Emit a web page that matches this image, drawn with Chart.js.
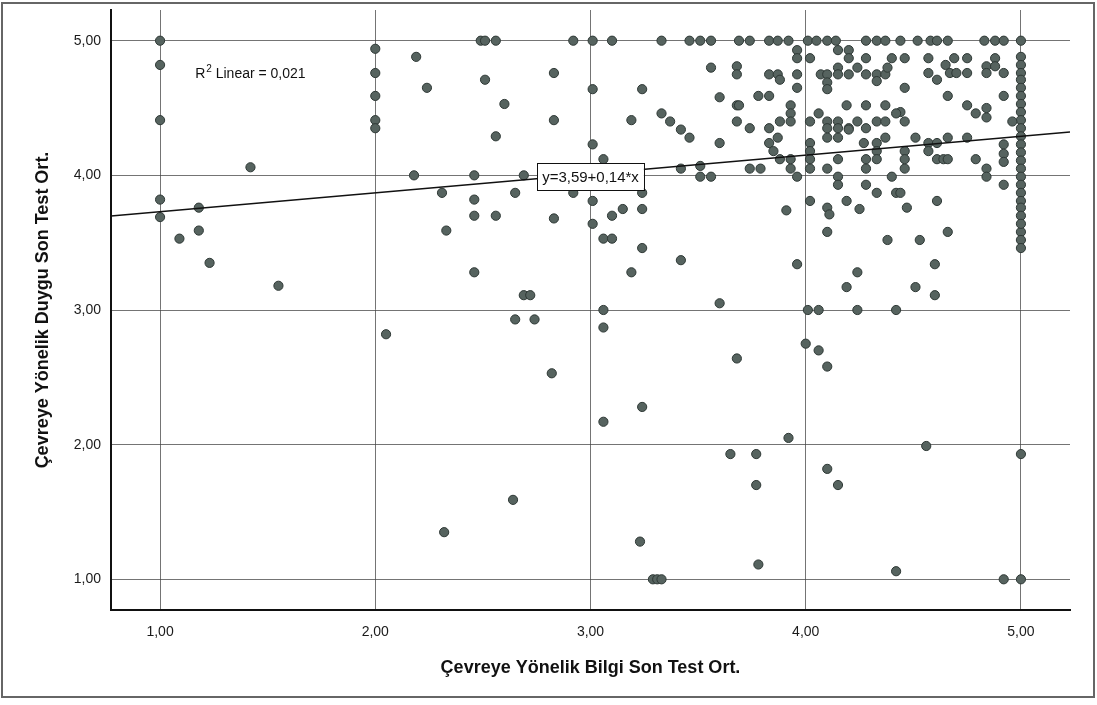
<!DOCTYPE html>
<html>
<head>
<meta charset="utf-8">
<script src="https://cdn.jsdelivr.net/npm/chart.js"></script>
<style>
  body { margin: 0; background: #ffffff; }
  #wrap { width: 1097px; height: 705px; }
</style>
</head>
<body>
<div id="wrap"><canvas id="chart1" width="1097" height="705"></canvas></div>
<script>
// axis setup
const axisMin = 0.772;
const axisMax = 5.228;
const tickValues = [1, 2, 3, 4, 5];

// fit line shown on the chart
const intercept = 3.59;
const slope = 0.14;
const fitLabel = 'y=3,59+0,14*x';
const r2Text = ' Linear = 0,021';

// Bilgi (knowledge) scores, x
const bilgi = [
    1.00, 1.00, 1.00, 1.00, 1.00, 1.42, 1.18, 1.18, 1.09, 1.23, 1.55,
    2.00, 2.00, 2.00, 2.00, 2.00, 2.19, 2.24, 2.18, 2.05,
    2.49, 2.51, 2.56, 2.92, 3.01, 3.10, 3.33, 3.46, 3.51, 3.56,
    2.51, 2.60, 2.56, 2.83, 2.83, 3.01, 3.01, 3.06, 3.19, 3.24, 3.33, 3.37, 3.42, 3.46, 3.56, 3.60, 3.60, 3.68, 3.68, 3.68, 3.68,
    2.46, 2.69, 2.31, 2.46, 2.46, 2.56, 2.65, 2.33, 2.46, 2.69, 2.72, 2.65, 2.74, 2.92, 2.83, 3.01, 3.01, 3.06, 3.10, 3.10, 3.15,
    3.24, 3.24, 3.24, 3.19, 3.42, 3.60, 3.06, 3.06, 3.42, 3.51, 3.51, 3.56,
    2.82, 3.06, 3.24, 2.64, 2.32, 3.23, 3.29, 3.31, 3.33, 3.68, 3.65,
    4.10, 4.38, 4.53, 4.66, 5.00, 5.00, 5.00, 3.96, 4.24, 4.19, 4.51, 4.60, 4.60, 4.01, 4.06, 4.24, 4.42, 4.00, 4.06, 4.10,
    3.92, 4.56, 5.00, 3.77, 3.77, 4.10, 4.15, 3.78, 4.42, 4.92, 5.00,
    3.69, 3.74, 3.83, 3.87, 3.92, 4.01, 4.05, 4.10, 4.14, 4.28, 4.33, 4.37, 4.44, 4.52, 4.58, 4.61, 4.66, 4.83, 4.88, 4.92, 5.00,
    3.96, 3.96, 4.02, 4.15, 4.20, 4.20, 4.28, 4.40, 4.15, 4.24, 4.15, 4.20, 4.28, 4.33, 4.37, 4.33, 4.38,
    3.83, 3.87, 3.88, 3.96, 3.96, 4.07, 4.10, 4.10, 4.10,
    4.46, 4.46, 4.57, 4.69, 4.75, 4.88,
    5.00, 5.00, 5.00, 5.00, 5.00, 5.00, 5.00, 5.00, 5.00, 5.00, 5.00, 5.00, 5.00, 5.00, 5.00, 5.00, 5.00, 5.00, 5.00, 5.00, 5.00, 5.00,
    4.65, 4.67, 4.70, 4.75, 4.57, 4.61, 4.84, 4.84, 4.88, 4.92, 4.66, 4.92, 4.75, 4.79, 4.84, 4.84, 4.96, 4.44, 4.46,
    3.78, 3.83, 3.69, 3.93, 3.93, 3.93, 4.19, 4.28, 4.37, 4.06, 4.42, 3.74, 3.88, 3.83, 4.02, 4.10, 4.10, 4.15, 4.20, 4.24, 4.33, 4.37, 4.28, 4.15,
    3.87, 3.83, 3.85, 3.88, 3.93, 3.93, 3.96, 4.02, 4.02, 4.02, 4.02, 3.74, 3.79, 4.15, 4.20, 4.10, 4.10, 4.15, 4.15, 4.15,
    4.27, 4.33, 4.37, 4.28, 4.28, 4.33, 4.33, 4.28, 4.40, 4.33, 4.42, 4.46, 4.46, 4.46,
    4.02, 3.91, 4.10, 4.11, 4.19, 4.25, 4.47,
    4.51, 4.57, 4.61, 4.57, 4.66, 4.75, 4.61, 4.64, 4.66, 4.79, 4.84, 4.84, 4.92, 4.92, 4.92, 4.92, 4.44, 4.61
];

// Duygu (attitude) scores, y
const duygu = [
    5.00, 4.82, 4.41, 3.82, 3.69, 4.06, 3.76, 3.59, 3.53, 3.35, 3.18,
    4.94, 4.76, 4.59, 4.41, 4.35, 4.88, 4.65, 4.00, 2.82,
    5.00, 5.00, 5.00, 5.00, 5.00, 5.00, 5.00, 5.00, 5.00, 5.00,
    4.71, 4.53, 4.29, 4.76, 4.41, 4.64, 4.23, 4.12, 4.41, 4.64, 4.46, 4.40, 4.34, 4.28, 4.80, 4.58, 4.24, 4.81, 4.75, 4.52, 4.40,
    4.00, 4.00, 3.87, 3.82, 3.70, 3.70, 3.87, 3.59, 3.28, 3.11, 3.11, 2.93, 2.93, 3.87, 3.68, 3.81, 3.64, 3.53, 3.53, 3.70, 3.75,
    3.87, 3.75, 3.46, 3.28, 3.37, 3.05, 3.00, 2.87, 4.05, 4.07, 3.99, 3.99,
    2.53, 2.17, 2.28, 1.59, 1.35, 1.28, 1.00, 1.00, 1.00, 2.64, 1.93,
    3.58, 3.52, 3.52, 3.58, 3.58, 3.52, 3.46, 3.34, 3.28, 3.17, 3.17, 3.34, 3.11, 3.00, 3.00, 3.00, 3.00, 2.75, 2.70, 2.58,
    2.05, 1.99, 1.93, 1.93, 1.70, 1.82, 1.70, 1.11, 1.06, 1.00, 1.00,
    5.00, 5.00, 5.00, 5.00, 5.00, 5.00, 5.00, 5.00, 5.00, 5.00, 5.00, 5.00, 5.00, 5.00, 5.00, 5.00, 5.00, 5.00, 5.00, 5.00, 5.00,
    4.93, 4.87, 4.87, 4.93, 4.93, 4.87, 4.87, 4.87, 4.80, 4.80, 4.75, 4.75, 4.75, 4.75, 4.75, 4.70, 4.80,
    4.75, 4.75, 4.71, 4.75, 4.65, 4.75, 4.75, 4.69, 4.64,
    4.87, 4.65, 4.87, 4.87, 4.87, 4.87,
    4.88, 4.82, 4.76, 4.71, 4.65, 4.59, 4.53, 4.47, 4.41, 4.35, 4.29, 4.23, 4.17, 4.11, 4.05, 3.99, 3.93, 3.87, 3.81, 3.76, 3.70, 3.64,
    4.82, 4.76, 4.76, 4.76, 4.76, 4.71, 4.81, 4.76, 4.81, 4.76, 4.59, 4.59, 4.52, 4.46, 4.50, 4.43, 4.40, 4.47, 4.40,
    4.59, 4.59, 4.52, 4.52, 4.46, 4.40, 4.52, 4.52, 4.52, 4.46, 4.46, 4.35, 4.40, 4.35, 4.40, 4.40, 4.35, 4.40, 4.35, 4.40, 4.40, 4.40, 4.35, 4.35,
    4.28, 4.24, 4.18, 4.12, 4.12, 4.05, 3.99, 4.24, 4.18, 4.12, 4.05, 4.05, 4.05, 4.28, 4.34, 4.28, 4.05, 4.12, 3.99, 3.93,
    4.24, 4.24, 4.28, 4.12, 4.05, 4.18, 4.12, 3.93, 3.99, 3.87, 3.87, 4.18, 4.12, 4.05,
    3.81, 3.74, 3.76, 3.71, 3.81, 3.75, 3.76,
    4.28, 4.24, 4.24, 4.18, 4.28, 4.28, 4.12, 4.12, 4.12, 4.12, 4.05, 3.99, 4.23, 4.16, 4.10, 3.93, 3.87, 3.81
];

const points = bilgi.map((v, i) => ({ x: v, y: duygu[i] }));
const fitPoints = [
    { x: axisMin, y: intercept + slope * axisMin },
    { x: axisMax, y: intercept + slope * axisMax }
];

const fontFamily = "'Liberation Sans', Arial, sans-serif";
const fmt = v => Number(v).toFixed(2).replace('.', ',');

// equation box, R2 text and the outer frame
const extras = {
    id: 'extras',
    afterDatasetsDraw(chart) {
        const ctx = chart.ctx;
        const xs = chart.scales.x, ys = chart.scales.y;
        ctx.save();
        // equation label
        ctx.font = '15px ' + fontFamily;
        const w = ctx.measureText(fitLabel).width + 10;
        const h = 27;
        const cx = xs.getPixelForValue(3.0);
        const cy = ys.getPixelForValue(3.99);
        ctx.fillStyle = '#ffffff';
        ctx.fillRect(cx - w / 2, cy - h / 2, w, h);
        ctx.strokeStyle = '#111111';
        ctx.lineWidth = 1;
        ctx.strokeRect(Math.round(cx - w / 2) + 0.5, Math.round(cy - h / 2) + 0.5, Math.round(w), h);
        ctx.fillStyle = '#111111';
        ctx.textAlign = 'center';
        ctx.textBaseline = 'middle';
        ctx.fillText(fitLabel, cx, cy + 1);
        // R2 label
        const rx = xs.getPixelForValue(1.163);
        const ry = ys.getPixelForValue(4.75);
        ctx.textAlign = 'left';
        ctx.font = '14px ' + fontFamily;
        ctx.fillText('R', rx, ry);
        let off = ctx.measureText('R').width;
        ctx.font = '10px ' + fontFamily;
        ctx.fillText('2', rx + off + 1, ry - 5);
        off += ctx.measureText('2').width + 1;
        ctx.font = '14px ' + fontFamily;
        ctx.fillText(r2Text, rx + off, ry);
        ctx.restore();
    },
    afterDraw(chart) {
        const ctx = chart.ctx;
        ctx.save();
        ctx.strokeStyle = '#666666';
        ctx.lineWidth = 2;
        ctx.strokeRect(2, 3, 1092, 694);
        ctx.restore();
    }
};

const ctx1 = document.getElementById('chart1');
const myChart = new Chart(ctx1, {
    type: 'scatter',
    data: {
        datasets: [{
            type: 'line',
            data: fitPoints,
            borderColor: '#111111',
            borderWidth: 1.6,
            pointRadius: 0,
            fill: false,
            order: 0
        }, {
            data: points,
            backgroundColor: '#56635f',
            borderColor: '#2e3835',
            borderWidth: 1,
            pointRadius: 4.6,
            order: 1
        }]
    },
    plugins: [extras],
    options: {
        responsive: false,
        animation: false,
        layout: {
            padding: { left: 0, top: 10, right: 27, bottom: 0 }
        },
        scales: {
            x: {
                type: 'linear',
                min: axisMin,
                max: axisMax,
                afterBuildTicks: scale => { scale.ticks = tickValues.map(v => ({ value: v })); },
                afterFit: scale => {
                    scale.height = 95;
                    scale.paddingLeft = 0;
                    scale.paddingRight = 0;
                },
                grid: {
                    color: 'rgba(70,70,70,0.75)',
                    lineWidth: 1,
                    drawTicks: false
                },
                border: { color: '#111111', width: 2 },
                ticks: {
                    color: '#1a1a1a',
                    padding: 14,
                    maxRotation: 0,
                    font: { family: fontFamily, size: 14 },
                    callback: v => fmt(v)
                },
                title: {
                    display: true,
                    text: 'Çevreye Yönelik Bilgi Son Test Ort.',
                    color: '#111111',
                    padding: { top: 0, bottom: 26 },
                    font: { family: fontFamily, size: 18, weight: 'bold' }
                }
            },
            y: {
                type: 'linear',
                min: axisMin,
                max: axisMax,
                afterBuildTicks: scale => { scale.ticks = tickValues.map(v => ({ value: v })); },
                afterFit: scale => {
                    scale.width = 111;
                    scale.paddingTop = 0;
                    scale.paddingBottom = 0;
                },
                grid: {
                    color: 'rgba(70,70,70,0.75)',
                    lineWidth: 1,
                    drawTicks: false
                },
                border: { color: '#111111', width: 2 },
                ticks: {
                    color: '#1a1a1a',
                    padding: 10,
                    font: { family: fontFamily, size: 14 },
                    callback: v => fmt(v)
                },
                title: {
                    display: true,
                    text: 'Çevreye Yönelik Duygu Son Test Ort.',
                    color: '#111111',
                    padding: { top: 32, bottom: 0 },
                    font: { family: fontFamily, size: 18, weight: 'bold' }
                }
            }
        },
        plugins: {
            legend: { display: false },
            tooltip: { enabled: false }
        }
    }
});
</script>
</body>
</html>
